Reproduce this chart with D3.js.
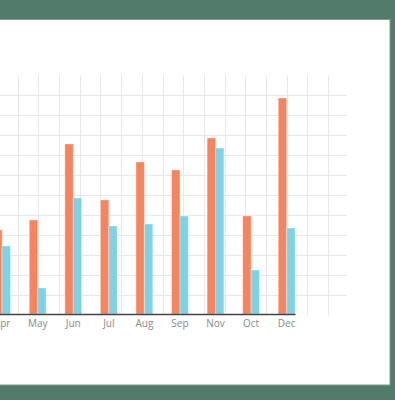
<!DOCTYPE html>
<html>
<head>
<meta charset="utf-8">
<script src="https://cdn.jsdelivr.net/npm/d3@7/dist/d3.min.js"></script>
<style>
  html, body { margin: 0; padding: 0; background: #527b6c; overflow: hidden; }
  svg { display: block; }
</style>
</head>
<body>
<svg id="chart" width="395" height="400"></svg>
<script>
// Data (Jan–Mar lie outside the visible crop)
const months = ["Apr", "May", "Jun", "Jul", "Aug", "Sep", "Nov", "Oct", "Dec"];
const seriesA = [42, 47, 85, 57, 76, 72, 88, 49, 108];   // orange
const seriesB = [34, 13, 58, 44, 45, 49, 83, 22, 43];    // blue
const seriesKeys = ["a", "b"];
const colors = ["#f5845f", "#7fd2e4"];

const svg = d3.select("#chart");

// white panel
svg.append("rect")
  .attr("x", -1).attr("y", 19.5).attr("width", 391).attr("height", 365.5)
  .attr("fill", "#ffffff").attr("stroke", "#7d9c91").attr("stroke-width", 1);

// grid scales
const gx = d3.scaleLinear().domain([0, 17]).range([-3, 348.7]);
const gy = d3.scaleLinear().domain([0, 12]).range([315.5, 75.5]);
const grid = svg.append("g").attr("stroke", "#e8e8e8").attr("stroke-width", 1);
grid.selectAll("line.v").data(d3.range(1, 17)).join("line")
  .attr("class", "v")
  .attr("x1", d => Math.round(gx(d)) + 0.5).attr("x2", d => Math.round(gx(d)) + 0.5)
  .attr("y1", gy(12)).attr("y2", gy(0));
grid.selectAll("line.h").data(d3.range(1, 12)).join("line")
  .attr("class", "h")
  .attr("x1", 0).attr("x2", 347)
  .attr("y1", d => gy(d)).attr("y2", d => gy(d));

// data scales
const x = d3.scaleBand().domain(months).range([-6.3, 295.06]).paddingInner(0.528).paddingOuter(0);
const xs = d3.scaleBand().domain(seriesKeys).range([0, x.bandwidth()]);
const y = d3.scaleLinear().domain([0, 120]).range([314, 74]);

const rows = months.map((m, i) => ({ m, vals: [seriesA[i], seriesB[i]] }));

const groups = svg.append("g").selectAll("g").data(rows).join("g")
  .attr("transform", d => `translate(${x(d.m)},0)`);
groups.selectAll("rect").data(d => d.vals.map((v, j) => ({ k: seriesKeys[j], v, j }))).join("rect")
  .attr("x", d => xs(d.k))
  .attr("width", xs.bandwidth())
  .attr("y", d => y(d.v))
  .attr("height", d => y(0) - y(d.v))
  .attr("fill", d => colors[d.j])
  .attr("stroke", "rgba(255,255,255,0.35)")
  .attr("stroke-width", 1);

// x axis
const axis = svg.append("g").attr("transform", `translate(0,${y(0)})`)
  .call(d3.axisBottom(x).tickSize(0).tickPadding(6));
axis.select(".domain").attr("stroke", "#444").attr("stroke-width", 1.5);
axis.selectAll("text")
  .attr("fill", "#888")
  .style("font-family", "'Open Sans', sans-serif")
  .style("font-size", "10px");
</script>
</body>
</html>
